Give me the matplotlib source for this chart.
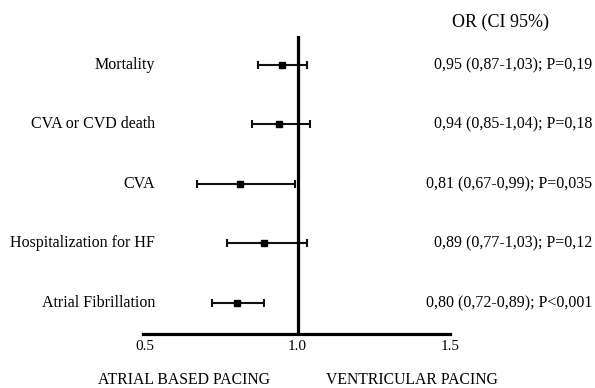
import numpy as np
import matplotlib.pyplot as plt
import matplotlib.transforms as transforms

plt.rcParams['font.family'] = ['Liberation Serif', 'DejaVu Serif']

outcomes = ["Mortality", "CVA or CVD death", "CVA", "Hospitalization for HF", "Atrial Fibrillation"]
odds_ratio = [0.95, 0.94, 0.81, 0.89, 0.80]
ci_low = [0.87, 0.85, 0.67, 0.77, 0.72]
ci_high = [1.03, 1.04, 0.99, 1.03, 0.89]
p_values = ["0,19", "0,18", "0,035", "0,12", "<0,001"]
x_ticks = [0.5, 1.0, 1.5]


def comma(v):
    return ("%.2f" % v).replace(".", ",")


fig = plt.figure(figsize=(5.95, 3.88), dpi=100)
ax = fig.add_axes([143 / 595, 54 / 388, 307 / 595, 298 / 388])

or_arr = np.array(odds_ratio)
low = np.array(ci_low)
high = np.array(ci_high)
ypos = np.arange(len(outcomes), 0, -1)

ax.errorbar(or_arr, ypos, xerr=[or_arr - low, high - or_arr], fmt="s", color="black",
            ecolor="#111111", elinewidth=1.5, capsize=3, capthick=1.5, markersize=4.5)
ax.axvline(1.0, color="black", linewidth=2.3)

ax.set_xlim(0.493, 1.5)
ax.set_ylim(0.479, 5.487)
ax.set_xticks(x_ticks)
ax.set_xticklabels(["%.1f" % t for t in x_ticks], fontsize=11)
ax.tick_params(axis="x", length=0, pad=4)
ax.set_yticks([])
for side in ["top", "right", "left"]:
    ax.spines[side].set_visible(False)
ax.spines["bottom"].set_linewidth(2.3)

trans = transforms.blended_transform_factory(fig.transFigure, ax.transData)
for i, name in enumerate(outcomes):
    ax.text(155 / 595, ypos[i], name, transform=trans, ha="right", va="center", fontsize=11.5)
    label = "%s (%s-%s); P%s" % (comma(odds_ratio[i]), comma(ci_low[i]), comma(ci_high[i]),
                                 p_values[i] if p_values[i].startswith("<") else "=" + p_values[i])
    ax.text(592 / 595, ypos[i], label, transform=trans, ha="right", va="center", fontsize=11.5)

fig.text(501 / 595, 1 - 22 / 388, "OR (CI 95%)", ha="center", va="center", fontsize=13)
fig.text(184 / 595, 1 - 380 / 388, "ATRIAL BASED PACING", ha="center", va="center", fontsize=11.3)
fig.text(412 / 595, 1 - 380 / 388, "VENTRICULAR PACING", ha="center", va="center", fontsize=11.3)

fig.savefig("out.png", dpi=100)
